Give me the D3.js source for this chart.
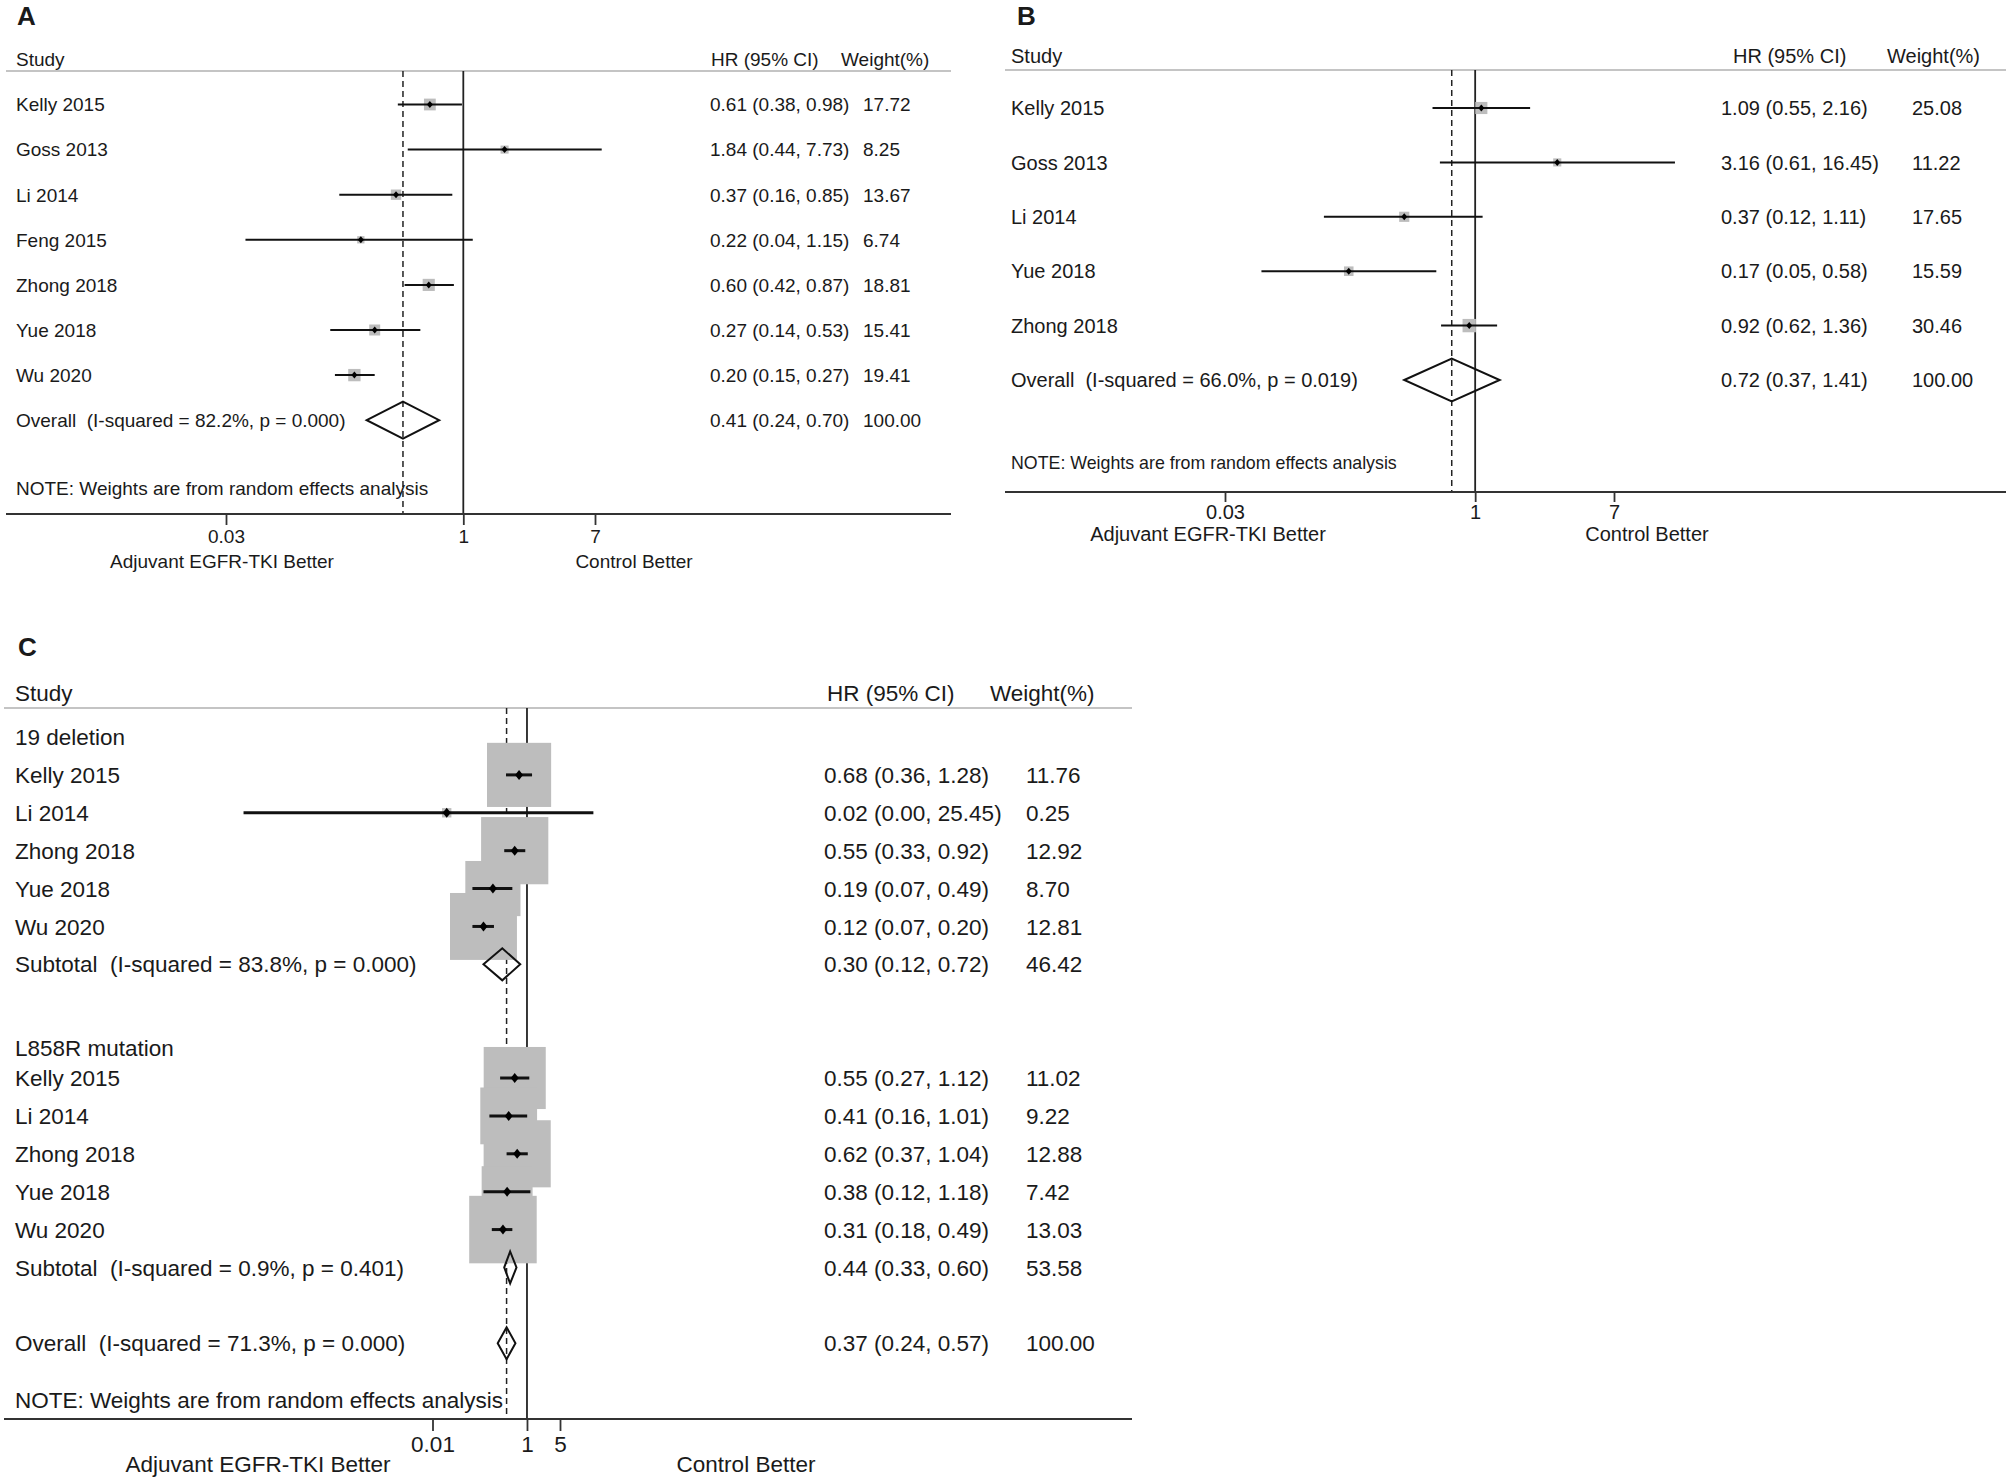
<!DOCTYPE html>
<html>
<head>
<meta charset="utf-8">
<script src="https://cdn.jsdelivr.net/npm/d3@7/dist/d3.min.js"></script>
<style>
  html, body { margin: 0; padding: 0; background: #fff; }
  svg text { white-space: pre; font-family: "Liberation Sans", Arial, Helvetica, sans-serif; fill: #1a1a1a; }
</style>
</head>
<body>
<svg id="chart" width="2009" height="1483"></svg>
<script>
// ---------------- DATA ----------------
// Panel A
const studiesA = ["Kelly 2015", "Goss 2013", "Li 2014", "Feng 2015", "Zhong 2018", "Yue 2018", "Wu 2020"];
const hrA      = [0.61, 1.84, 0.37, 0.22, 0.60, 0.27, 0.20];
const lowA     = [0.38, 0.44, 0.16, 0.04, 0.42, 0.14, 0.15];
const highA    = [0.98, 7.73, 0.85, 1.15, 0.87, 0.53, 0.27];
const weightA  = [17.72, 8.25, 13.67, 6.74, 18.81, 15.41, 19.41];
const overallA = [0.41, 0.24, 0.70];
const overallWeightA = 100.00;
const overallLabelA = "Overall  (I-squared = 82.2%, p = 0.000)";
const ticksA = [0.03, 1, 7];

// Panel B
const studiesB = ["Kelly 2015", "Goss 2013", "Li 2014", "Yue 2018", "Zhong 2018"];
const hrB      = [1.09, 3.16, 0.37, 0.17, 0.92];
const lowB     = [0.55, 0.61, 0.12, 0.05, 0.62];
const highB    = [2.16, 16.45, 1.11, 0.58, 1.36];
const weightB  = [25.08, 11.22, 17.65, 15.59, 30.46];
const overallB = [0.72, 0.37, 1.41];
const overallWeightB = 100.00;
const overallLabelB = "Overall  (I-squared = 66.0%, p = 0.019)";
const ticksB = [0.03, 1, 7];

// Panel C
const groupsC = ["19 deletion", "L858R mutation"];
const studiesC = ["Kelly 2015", "Li 2014", "Zhong 2018", "Yue 2018", "Wu 2020"];
const hrC1     = [0.68, 0.02, 0.55, 0.19, 0.12];
const lowC1    = [0.36, 0.000001, 0.33, 0.07, 0.07];
const highC1   = [1.28, 25.45, 0.92, 0.49, 0.20];
const weightC1 = [11.76, 0.25, 12.92, 8.70, 12.81];
const subtotalC1 = [0.30, 0.12, 0.72];
const subtotalWeightC1 = 46.42;
const subtotalLabelC1 = "Subtotal  (I-squared = 83.8%, p = 0.000)";
const hrC2     = [0.55, 0.41, 0.62, 0.38, 0.31];
const lowC2    = [0.27, 0.16, 0.37, 0.12, 0.18];
const highC2   = [1.12, 1.01, 1.04, 1.18, 0.49];
const weightC2 = [11.02, 9.22, 12.88, 7.42, 13.03];
const subtotalC2 = [0.44, 0.33, 0.60];
const subtotalWeightC2 = 53.58;
const subtotalLabelC2 = "Subtotal  (I-squared = 0.9%, p = 0.401)";
const overallC = [0.37, 0.24, 0.57];
const overallWeightC = 100.00;
const overallLabelC = "Overall  (I-squared = 71.3%, p = 0.000)";
const ticksC = [0.01, 1, 5];

const noteText = "NOTE: Weights are from random effects analysis";
const leftLabel = "Adjuvant EGFR-TKI Better";
const rightLabel = "Control Better";

// ---------------- BUILD ROWS ----------------
function studyRows(names, hr, low, high, w, slots) {
  return names.map((s, i) => ({ type: "study", label: s, hr: hr[i], low: low[i], high: high[i], w: w[i], slot: slots[i] }));
}
function pooledRow(label, est, w, slot) {
  return { type: "pooled", label: label, hr: est[0], low: est[1], high: est[2], w: w, slot: slot };
}

const rowsA = studyRows(studiesA, hrA, lowA, highA, weightA, [0,1,2,3,4,5,6])
  .concat([pooledRow(overallLabelA, overallA, overallWeightA, 7)]);
const rowsB = studyRows(studiesB, hrB, lowB, highB, weightB, [0,1,2,3,4])
  .concat([pooledRow(overallLabelB, overallB, overallWeightB, 5)]);
const rowsC = [{ type: "heading", label: groupsC[0], slot: 0 }]
  .concat(studyRows(studiesC, hrC1, lowC1, highC1, weightC1, [1,2,3,4,5]))
  .concat([pooledRow(subtotalLabelC1, subtotalC1, subtotalWeightC1, 6)])
  .concat([{ type: "heading", label: groupsC[1], slot: 8.2 }])
  .concat(studyRows(studiesC, hrC2, lowC2, highC2, weightC2, [9,10,11,12,13]))
  .concat([pooledRow(subtotalLabelC2, subtotalC2, subtotalWeightC2, 14)])
  .concat([pooledRow(overallLabelC, overallC, overallWeightC, 16)]);

// ---------------- DRAW ----------------
const svg = d3.select("#chart");

function drawPanel(P) {
  const g = svg.append("g");
  const x = d3.scaleLog().domain([P.ticks[0], P.ticks[P.ticks.length - 1]]).range(P.xr);
  const y = s => P.y0 + s * P.step;
  const fs = P.font;
  const overall = P.rows[P.rows.length - 1];

  // panel letter
  g.append("text").attr("x", P.letter[0]).attr("y", P.letter[1])
    .style("font-size", "26px").style("font-weight", "bold").text(P.name);

  // header
  g.append("text").attr("x", P.labelX).attr("y", P.headerY).attr("dy", "0.36em")
    .style("font-size", fs + "px").text("Study");
  g.append("text").attr("x", P.hrHeadX).attr("y", P.headerY).attr("dy", "0.36em")
    .style("font-size", fs + "px").text("HR (95% CI)");
  g.append("text").attr("x", P.wHeadX).attr("y", P.headerY).attr("dy", "0.36em")
    .style("font-size", fs + "px").text("Weight(%)");
  g.append("line").attr("x1", P.left).attr("x2", P.right)
    .attr("y1", P.headLineY).attr("y2", P.headLineY)
    .attr("stroke", "#c4c4c4").attr("stroke-width", 2);

  // reference lines
  g.append("line").attr("x1", x(1)).attr("x2", x(1))
    .attr("y1", P.headLineY).attr("y2", P.axisY)
    .attr("stroke", "#222").attr("stroke-width", 1.8);
  g.append("line").attr("x1", x(overall.hr)).attr("x2", x(overall.hr))
    .attr("y1", P.headLineY).attr("y2", P.axisY)
    .attr("stroke", "#222").attr("stroke-width", 1.5).attr("stroke-dasharray", "6,4");

  const studies = P.rows.filter(r => r.type === "study");
  const pooled = P.rows.filter(r => r.type === "pooled");

  // boxes
  g.selectAll("rect.box").data(studies).join("rect").attr("class", "box")
    .attr("x", d => x(d.hr) - P.boxK * Math.sqrt(d.w) / 2)
    .attr("y", d => y(d.slot) - P.boxK * Math.sqrt(d.w) / 2)
    .attr("width", d => P.boxK * Math.sqrt(d.w))
    .attr("height", d => P.boxK * Math.sqrt(d.w))
    .attr("fill", "#bdbdbd");

  // CI lines
  g.selectAll("line.ci").data(studies).join("line").attr("class", "ci")
    .attr("x1", d => x(d.low)).attr("x2", d => x(d.high))
    .attr("y1", d => y(d.slot)).attr("y2", d => y(d.slot))
    .attr("stroke", "#111").attr("stroke-width", P.ciW);

  // point markers
  g.selectAll("path.pt").data(studies).join("path").attr("class", "pt")
    .attr("d", d => {
      const cx = x(d.hr), cy = y(d.slot), a = P.mk[0], b = P.mk[1];
      return `M${cx - a},${cy}L${cx},${cy - b}L${cx + a},${cy}L${cx},${cy + b}Z`;
    })
    .attr("fill", "#000");

  // pooled diamonds
  g.selectAll("path.dia").data(pooled).join("path").attr("class", "dia")
    .attr("d", d => {
      const cy = y(d.slot), h = P.diaH;
      return `M${x(d.low)},${cy}L${x(d.hr)},${cy - h}L${x(d.high)},${cy}L${x(d.hr)},${cy + h}Z`;
    })
    .attr("fill", "none").attr("stroke", "#111").attr("stroke-width", 2);

  // row texts
  g.selectAll("text.lab").data(P.rows).join("text").attr("class", "lab")
    .attr("x", P.labelX).attr("y", d => y(d.slot)).attr("dy", "0.36em")
    .style("font-size", fs + "px").text(d => d.label);
  const est = P.rows.filter(r => r.type !== "heading");
  g.selectAll("text.hr").data(est).join("text").attr("class", "hr")
    .attr("x", P.hrX).attr("y", d => y(d.slot)).attr("dy", "0.36em")
    .style("font-size", fs + "px")
    .text(d => `${d.hr.toFixed(2)} (${d.low.toFixed(2)}, ${d.high.toFixed(2)})`);
  g.selectAll("text.wt").data(est).join("text").attr("class", "wt")
    .attr("x", P.wX).attr("y", d => y(d.slot)).attr("dy", "0.36em")
    .style("font-size", fs + "px").text(d => d.w.toFixed(2));

  // note
  g.append("text").attr("x", P.labelX).attr("y", P.noteY).attr("dy", "0.36em")
    .style("font-size", P.noteFont + "px").text(noteText);

  // axis
  g.append("line").attr("x1", P.left).attr("x2", P.right)
    .attr("y1", P.axisY).attr("y2", P.axisY)
    .attr("stroke", "#333").attr("stroke-width", 2);
  const ax = g.append("g").attr("transform", `translate(0,${P.axisY})`)
    .call(d3.axisBottom(x).tickValues(P.ticks).tickFormat(d => String(d)).tickSize(P.tickLen));
  ax.select(".domain").remove();
  ax.selectAll(".tick line").attr("stroke", "#333").attr("stroke-width", 1.8);
  ax.selectAll(".tick text").attr("y", P.tickLabY - P.axisY).attr("dy", "0.36em")
    .style("font-size", fs + "px")
    .style("font-family", '"Liberation Sans", Arial, Helvetica, sans-serif')
    .attr("fill", "#1a1a1a");

  g.append("text").attr("x", P.bottomX[0]).attr("y", P.bottomY).attr("dy", "0.36em")
    .attr("text-anchor", "middle").style("font-size", fs + "px").text(leftLabel);
  g.append("text").attr("x", P.bottomX[1]).attr("y", P.bottomY).attr("dy", "0.36em")
    .attr("text-anchor", "middle").style("font-size", fs + "px").text(rightLabel);
}

drawPanel({
  name: "A", rows: rowsA, ticks: ticksA, xr: [226, 595],
  letter: [17, 25], left: 6, right: 951, headerY: 59, headLineY: 71,
  labelX: 16, hrHeadX: 711, wHeadX: 841, hrX: 710, wX: 863,
  y0: 104.5, step: 45.1, noteY: 488, axisY: 514, tickLen: 11, tickLabY: 536,
  bottomY: 561, bottomX: [222, 634], font: 19, noteFont: 19, boxK: 2.8, mk: [3, 3.5], ciW: 2, diaH: 18.5
});

drawPanel({
  name: "B", rows: rowsB, ticks: ticksB, xr: [1225, 1614],
  letter: [1017, 25], left: 1005, right: 2006, headerY: 56, headLineY: 70,
  labelX: 1011, hrHeadX: 1733, wHeadX: 1887, hrX: 1721, wX: 1912,
  y0: 108, step: 54.4, noteY: 463, axisY: 492, tickLen: 10, tickLabY: 512,
  bottomY: 534, bottomX: [1208, 1647], font: 20, noteFont: 17.8, boxK: 2.42, mk: [3, 3.5], ciW: 2, diaH: 21.5
});

drawPanel({
  name: "C", rows: rowsC, ticks: ticksC, xr: [432.5, 560],
  letter: [18, 656], left: 4, right: 1132, headerY: 693, headLineY: 708,
  labelX: 15, hrHeadX: 827, wHeadX: 990, hrX: 824, wX: 1026,
  y0: 737, step: 37.89, noteY: 1400, axisY: 1419, tickLen: 12, tickLabY: 1444,
  bottomY: 1464, bottomX: [258, 746], font: 22.5, noteFont: 22.5, boxK: 18.7, mk: [4, 5], ciW: 3, diaH: 16
});
</script>
</body>
</html>
